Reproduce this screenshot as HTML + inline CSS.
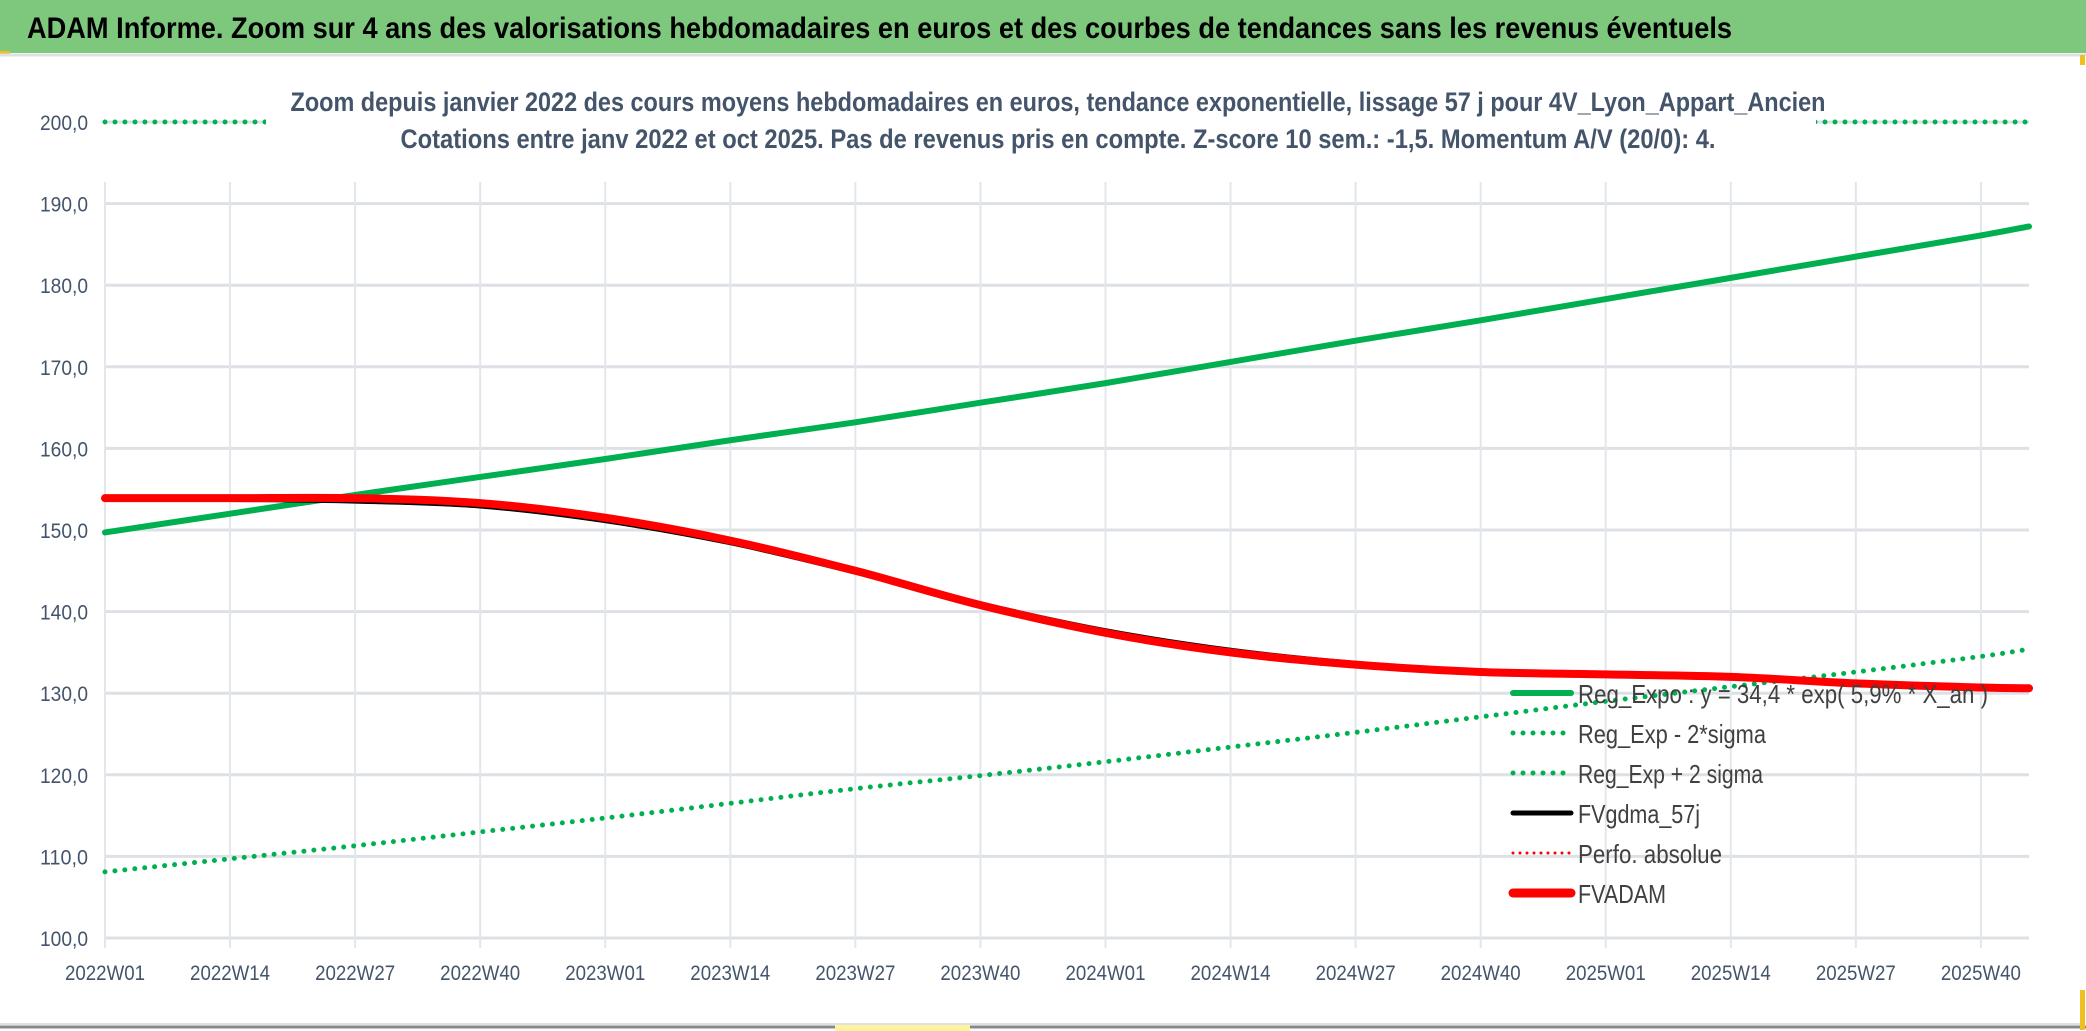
<!DOCTYPE html>
<html><head><meta charset="utf-8"><style>
html,body{margin:0;padding:0;background:#fff;width:2086px;height:1031px;overflow:hidden}
svg text{font-family:"Liberation Sans Narrow","Liberation Sans",sans-serif}
</style></head><body>
<svg id="chart" width="2086" height="1031" viewBox="0 0 2086 1031" xmlns="http://www.w3.org/2000/svg">
<rect x="0" y="0" width="2086" height="1031" fill="#fff"/>
<rect x="0" y="0" width="2086" height="53" fill="#7dc87d"/>
<rect x="0" y="51" width="10" height="3" fill="#f0c020"/>
<line x1="0" y1="55" x2="2086" y2="55" stroke="#dde1e6" stroke-width="3"/>
<text x="27" y="38" font-size="30" font-weight="bold" fill="#000" textLength="1705" lengthAdjust="spacingAndGlyphs">ADAM Informe. Zoom sur 4 ans des valorisations hebdomadaires en euros et des courbes de tendances sans les revenus éventuels</text>
<g id="grid"></g>
<g id="yaxis"></g>
<g id="xaxis"></g>
<g id="series"></g>
<rect x="266" y="80" width="1550" height="82" fill="#fff"/>
<text x="1058" y="111" text-anchor="middle" font-size="27" font-weight="bold" fill="#44546a" textLength="1535" lengthAdjust="spacingAndGlyphs">Zoom depuis janvier 2022 des cours moyens hebdomadaires en euros, tendance exponentielle, lissage 57 j pour 4V_Lyon_Appart_Ancien</text>
<text x="1058" y="148" text-anchor="middle" font-size="27" font-weight="bold" fill="#44546a" textLength="1315" lengthAdjust="spacingAndGlyphs">Cotations entre janv 2022 et oct 2025. Pas de revenus pris en compte. Z-score 10 sem.: -1,5. Momentum A/V (20/0): 4.</text>
<g id="legend"></g>
<line x1="0" y1="1027" x2="2086" y2="1027" stroke="#888" stroke-width="3"/>
<line x1="0" y1="1024" x2="2080" y2="1024" stroke="#dde1e6" stroke-width="2"/>
<rect x="2080" y="990" width="5" height="40" fill="#f0c020"/>
<rect x="2080" y="55" width="5" height="10" fill="#f0c020"/>
<rect x="835" y="1025" width="135" height="6" fill="#fff3a0"/>
</svg>
<script>
const weekIdx=[0,13,26,39,52,65,78,91,104,117,130,143,156,169,182,195,200];
const tickLabels=["2022W01","2022W14","2022W27","2022W40","2023W01","2023W14","2023W27","2023W40","2024W01","2024W14","2024W27","2024W40","2025W01","2025W14","2025W27","2025W40"];
const yTicks=[100,110,120,130,140,150,160,170,180,190,200];
const regExpo=[149.7,152.0,154.3,156.5,158.7,161.0,163.2,165.6,168.0,170.6,173.2,175.7,178.3,180.9,183.5,186.1,187.2];
const regLow=[108.1,109.7,111.3,113.0,114.7,116.5,118.3,119.9,121.6,123.4,125.2,127.1,129.0,130.8,132.6,134.5,135.4];
const regHigh=[205,208,211,214,217,220,223,226,229,232,236,240,244,248,252,256,258];
const fvgdma=[153.8,153.8,153.6,153.0,151.2,148.5,144.9,140.9,137.6,135.2,133.6,132.6,132.3,132.0,131.2,130.7,130.6];
const fvadam=[153.9,153.9,153.9,153.3,151.5,148.7,145.0,140.8,137.4,135.0,133.5,132.6,132.3,132.0,131.2,130.7,130.6];

const NS="http://www.w3.org/2000/svg";
const X0=105,PXW=9.62,Y100=938,PXU=8.16,XR=2029;
const xs=w=>X0+w*PXW;
const ys=v=>Y100-(Math.min(v,200)-100)*PXU;
function mk(tag,parent,attrs){const e=document.createElementNS(NS,tag);for(const k in attrs)e.setAttribute(k,attrs[k]);parent.appendChild(e);return e;}
const grid=document.getElementById('grid'),ya=document.getElementById('yaxis'),xa=document.getElementById('xaxis'),ser=document.getElementById('series'),leg=document.getElementById('legend');
yTicks.forEach(v=>{
  const l=mk('line',grid,{x1:X0,x2:XR,y1:ys(v),y2:ys(v),stroke:'#dde1e6','stroke-width':3});
  
  
  const t=mk('text',ya,{x:88,y:ys(v)+8,'text-anchor':'end','font-size':21,fill:'#44546a',textLength:48,lengthAdjust:'spacingAndGlyphs'});
  t.textContent=v.toFixed(1).replace('.',',');
  
  
});
tickLabels.forEach((s,i)=>{
  const x=xs(i*13);
  const l=mk('line',grid,{x1:x,x2:x,y1:ys(200)+60,y2:ys(100)+10,stroke:'#e3e6ea','stroke-width':2});
  
  
  const t=mk('text',xa,{x:x,y:980,'text-anchor':'middle','font-size':21,fill:'#44546a',textLength:80,lengthAdjust:'spacingAndGlyphs'});
  t.textContent=s;
  
  
});
function pathOf(vals){
  const p=vals.map((v,i)=>[xs(weekIdx[i]),ys(v)]);
  let d='M'+p[0][0]+','+p[0][1];
  for(let i=0;i<p.length-1;i++){
    const p0=p[Math.max(0,i-1)],p1=p[i],p2=p[i+1],p3=p[Math.min(p.length-1,i+2)];
    const c1x=p1[0]+(p2[0]-p0[0])/6,c1y=p1[1]+(p2[1]-p0[1])/6,c2x=p2[0]-(p3[0]-p1[0])/6,c2y=p2[1]-(p3[1]-p1[1])/6;
    d+=` C${c1x},${c1y} ${c2x},${c2y} ${p2[0]},${p2[1]}`;
  }
  return d;
}
function line(vals,name,attrs){
  const e=mk('path',ser,Object.assign({d:pathOf(vals),fill:'none','stroke-linecap':'round'},attrs));
  
  
}
line(regHigh,'series-reg-exp-plus-2sigma',{stroke:'#00b050','stroke-width':5,'stroke-dasharray':'0 10'});
line(regLow,'series-reg-exp-minus-2sigma',{stroke:'#00b050','stroke-width':5,'stroke-dasharray':'0 10'});
line(regExpo,'series-reg-expo',{stroke:'#00b050','stroke-width':6});
line(fvgdma,'series-fvgdma-57j',{stroke:'#000','stroke-width':6});
line(fvadam,'series-fvadam',{stroke:'#ff0000','stroke-width':8});
const legItems=[
 ['Reg_Expo : y = 34,4 * exp( 5,9% * X_an )','#00b050',6,null,'legend-reg-expo',410],
 ['Reg_Exp - 2*sigma','#00b050',5,'0 10','legend-reg-exp-minus',188],
 ['Reg_Exp + 2 sigma','#00b050',5,'0 10','legend-reg-exp-plus',185],
 ['FVgdma_57j','#000',5,null,'legend-fvgdma',122],
 ['Perfo. absolue','#ff0000',3,'0 7','legend-perfo-absolue',144],
 ['FVADAM','#ff0000',9,null,'legend-fvadam',88]];
const legY=[703,743,783,823,863,903];
legItems.forEach((it,i)=>{
  const g=mk('g',leg,{});
  
  
  const a={x1:1513,x2:1571,y1:legY[i]-10,y2:legY[i]-10,stroke:it[1],'stroke-width':it[2],'stroke-linecap':'round'};
  if(it[3])a['stroke-dasharray']=it[3];
  mk('line',g,a);
  const t=mk('text',g,{x:1578,y:legY[i],'font-size':26,fill:'#404040',textLength:it[5],lengthAdjust:'spacingAndGlyphs'});
  t.textContent=it[0];
});
</script>
</body></html>
